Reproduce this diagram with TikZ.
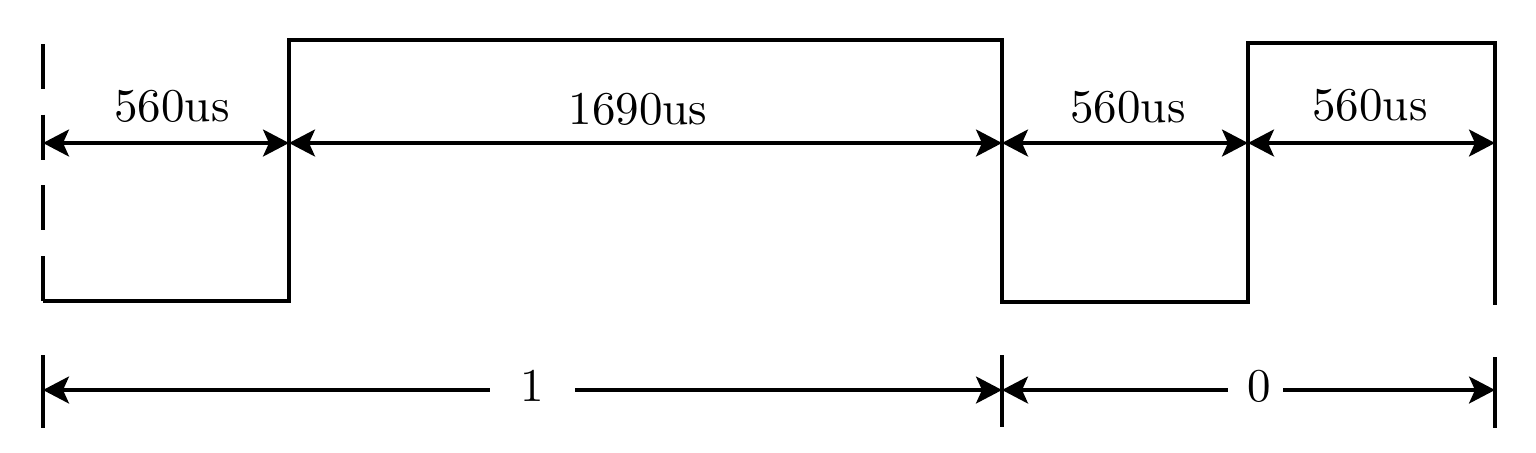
\documentclass[tikz,border=0pt]{standalone}
\usepackage{fontspec}
\setmainfont{lmroman10-regular}[Extension=.otf]
\usetikzlibrary{arrows.meta}
\begin{document}
\begin{tikzpicture}[x=0.5pt,y=-0.5pt,
  tip/.tip={Stealth[length=13pt,width=13.5pt,inset=3pt]},
  wave/.style={line width=1.6pt},
  dim/.style={line width=1.6pt,tip-tip},
  dimL/.style={line width=1.6pt,tip-},
  dimR/.style={line width=1.6pt,-tip},
  tick/.style={line width=1.6pt},
  lbl/.style={anchor=base,inner sep=0pt,font=\fontsize{23.5}{28}\selectfont}]
\useasboundingbox (0,0) rectangle (1536,452);
% waveform corners
\coordinate (s0) at (43,44);
\coordinate (l0) at (43,301);
\coordinate (l1) at (289,301);
\coordinate (h1) at (289,40);
\coordinate (h2) at (1002,40);
\coordinate (l2) at (1002,302);
\coordinate (l3) at (1248,302);
\coordinate (h3) at (1248,43);
\coordinate (h4) at (1495,43);
\coordinate (e0) at (1495,305);
\draw[wave,dash pattern=on 22.5pt off 12.85pt] (s0) -- (l0);
\draw[wave] (l0) -- (l1) -- (h1) -- (h2) -- (l2) -- (l3) -- (h3) -- (h4) -- (e0);
% upper dimension arrows
\coordinate (a0) at (43,143);
\coordinate (a1) at (289,143);
\coordinate (a2) at (1002,143);
\coordinate (a3) at (1248,143);
\coordinate (a4) at (1495,143);
\draw[dim] (a0) -- (a1);
\draw[dim] (a1) -- (a2);
\draw[dim] (a2) -- (a3);
\draw[dim] (a3) -- (a4);
\node[lbl] (t1) at (172,121) {560us};
\node[lbl] (t2) at (638,124) {1690us};
\node[lbl] (t3) at (1128,122) {560us};
\node[lbl] (t4) at (1370,120) {560us};
% lower ticks
\coordinate (k0a) at (43,355); \coordinate (k0b) at (43,428);
\coordinate (k1a) at (1002,355); \coordinate (k1b) at (1002,427);
\coordinate (k2a) at (1495,357); \coordinate (k2b) at (1495,428);
\draw[tick] (k0a) -- (k0b);
\draw[tick] (k1a) -- (k1b);
\draw[tick] (k2a) -- (k2b);
% lower arrows
\coordinate (b0) at (43,390);
\coordinate (b1) at (1002,390);
\coordinate (b2) at (1495,390);
\coordinate (g1a) at (490,390);
\coordinate (g1b) at (575,390);
\coordinate (g2a) at (1228,390);
\coordinate (g2b) at (1283,390);
\draw[dimL] (b0) -- (g1a);
\draw[dimR] (g1b) -- (b1);
\draw[dimL] (b1) -- (g2a);
\draw[dimR] (g2b) -- (b2);
\node[lbl] (n1) at (532,401) {1};
\node[lbl] (n0) at (1259,401) {0};
\end{tikzpicture}
\end{document}
